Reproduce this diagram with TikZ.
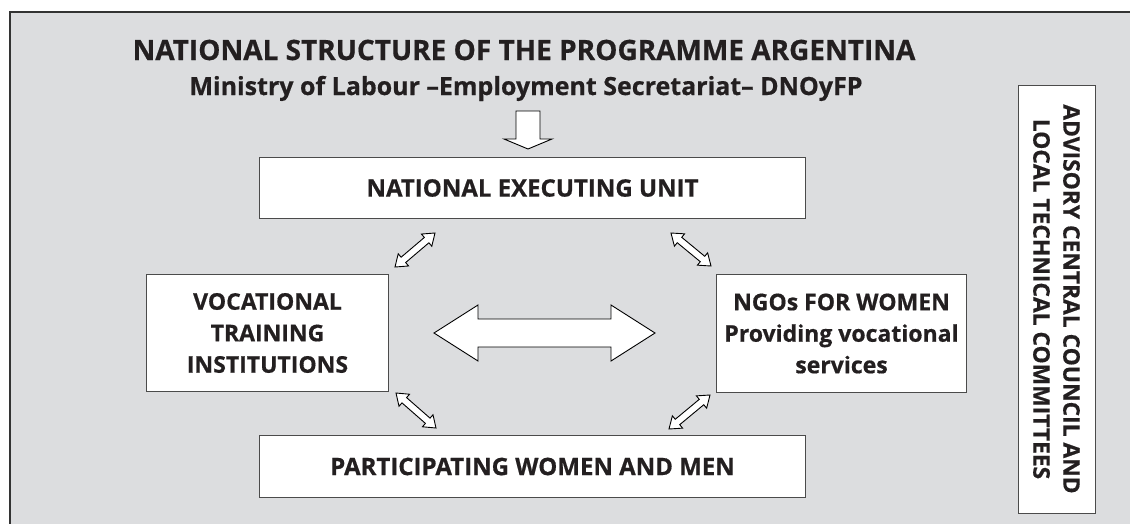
\documentclass[tikz,border=0pt]{standalone}
\usepackage{fontspec}
\setmainfont{Open Sans}[BoldFeatures={FakeBold=0.6}]
\usetikzlibrary{calc}

\definecolor{panelgray}{RGB}{220,221,223}
\definecolor{inkdark}{RGB}{35,31,32}
\definecolor{edgegray}{RGB}{75,75,75}

\tikzset{
  box/.style={draw=edgegray, line width=1pt, fill=white, inner sep=0pt,
    text=inkdark, align=center,
    font=\fontsize{23}{31.5}\selectfont\bfseries},
  widebox/.style={box, font=\fontsize{24}{31.5}\selectfont\bfseries},
  blockarrow/.style={draw=black, line width=0.9pt, fill=white, line join=miter},
  titletext/.style={anchor=base, text=inkdark, inner sep=0pt},
}

% hollow double-headed block arrow between two points:
% #1,#2 ends; #3 shaft half width; #4 head half width; #5 head length
\newcommand{\hollowdbl}[5]{%
  \draw[blockarrow] (#1)
    -- ($(#1)!#5!(#2)!#4!90:(#2)$)
    -- ($(#1)!#5!(#2)!#3!90:(#2)$)
    -- ($(#2)!#5!(#1)!#3!-90:(#1)$)
    -- ($(#2)!#5!(#1)!#4!-90:(#1)$)
    -- (#2)
    -- ($(#2)!#5!(#1)!#4!90:(#1)$)
    -- ($(#2)!#5!(#1)!#3!90:(#1)$)
    -- ($(#1)!#5!(#2)!#3!-90:(#2)$)
    -- ($(#1)!#5!(#2)!#4!-90:(#2)$)
    -- cycle;}

% hollow single block arrow from tail #1 to tip #2 (same parameters)
\newcommand{\hollowone}[5]{%
  \draw[blockarrow] ($(#1)!#3!90:(#2)$)
    -- ($(#2)!#5!(#1)!#3!-90:(#1)$)
    -- ($(#2)!#5!(#1)!#4!-90:(#1)$)
    -- (#2)
    -- ($(#2)!#5!(#1)!#4!90:(#1)$)
    -- ($(#2)!#5!(#1)!#3!90:(#1)$)
    -- ($(#1)!#3!-90:(#2)$)
    -- cycle;}

\begin{document}
\begin{tikzpicture}[x=1pt, y=-1pt]
  \useasboundingbox (0,0) rectangle (1130,523);
  \fill[white] (0,0) rectangle (1130,523);

  % panel
  \draw[fill=panelgray, draw=black!80, line width=1.3pt] (10,12) rectangle (1140,540);

  % title
  \node[titletext, font=\fontsize{28}{34}\selectfont\bfseries] (title1) at (524,60)
    {NATIONAL STRUCTURE OF THE PROGRAMME ARGENTINA};
  \node[titletext, font=\fontsize{25}{30}\selectfont\bfseries] (title2) at (526,95)
    {Ministry of Labour –Employment Secretariat– DNOyFP};

  % boxes
  \node[widebox, anchor=north west, minimum width=546pt, minimum height=61pt] (neu) at (259,157)
    {NATIONAL EXECUTING UNIT};
  \node[box, anchor=north west, minimum width=242pt, minimum height=117pt] (vti) at (146,274)
    {VOCATIONAL\\TRAINING\\INSTITUTIONS};
  \node[box, anchor=north west, minimum width=250pt, minimum height=118pt] (ngo) at (716,274)
    {NGOs FOR WOMEN\\Providing vocational\\services};
  \node[widebox, anchor=north west, minimum width=546pt, minimum height=62pt] (pwm) at (259,435)
    {PARTICIPATING WOMEN AND MEN};
  \node[box, rotate=-90, minimum width=428pt, minimum height=77pt,
        font=\fontsize{22.8}{30}\selectfont\bfseries] (adv) at (1056.5,299)
    {ADVISORY CENTRAL COUNCIL AND\\LOCAL TECHNICAL COMMITTEES};

  % connector end points
  \coordinate (dtop) at (528,111);
  \coordinate (dtip) at (528,149);
  \coordinate (cl) at (434,333);
  \coordinate (cr) at (655,333);
  \coordinate (tla) at (395,267);
  \coordinate (tlb) at (435,233);
  \coordinate (tra) at (671,233);
  \coordinate (trb) at (711,266);
  \coordinate (bla) at (396,393);
  \coordinate (blb) at (436,428);
  \coordinate (bra) at (669,429);
  \coordinate (brb) at (710,395);

  % arrows
  \hollowone{dtop}{dtip}{12pt}{24pt}{10pt}
  \hollowdbl{cl}{cr}{14pt}{28pt}{44pt}
  \hollowdbl{tla}{tlb}{3.5pt}{8pt}{11pt}
  \hollowdbl{tra}{trb}{3.5pt}{8pt}{11pt}
  \hollowdbl{bla}{blb}{3.5pt}{8pt}{11pt}
  \hollowdbl{bra}{brb}{3.5pt}{8pt}{11pt}
\end{tikzpicture}
\end{document}
